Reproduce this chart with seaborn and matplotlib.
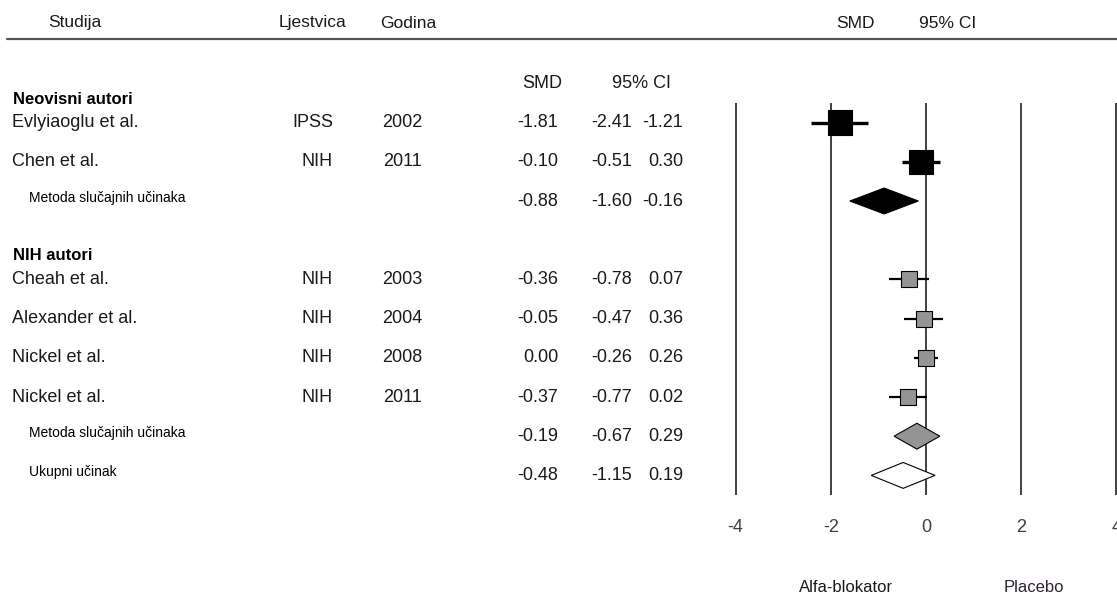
import matplotlib
matplotlib.use("Agg")
import matplotlib.pyplot as plt
import matplotlib.transforms as mtransforms
import pandas as pd
import seaborn as sns

# Neovisni autori
g1_studies = ["Evlyiaoglu et al.", "Chen et al."]
g1_scale = ["IPSS", "NIH"]
g1_year = ["2002", "2011"]
g1_smd = [-1.81, -0.10]
g1_lower = [-2.41, -0.51]
g1_upper = [-1.21, 0.30]
g1_pooled = [-0.88, -1.60, -0.16]

# NIH autori
g2_studies = ["Cheah et al.", "Alexander et al.", "Nickel et al.", "Nickel et al."]
g2_scale = ["NIH", "NIH", "NIH", "NIH"]
g2_year = ["2003", "2004", "2008", "2011"]
g2_smd = [-0.36, -0.05, 0.00, -0.37]
g2_lower = [-0.78, -0.47, -0.26, -0.77]
g2_upper = [0.07, 0.36, 0.26, 0.02]
g2_pooled = [-0.19, -0.67, 0.29]

overall = [-0.48, -1.15, 0.19]

group_names = ["Neovisni autori", "NIH autori"]
pooled_label = "Metoda slučajnih učinaka"
overall_label = "Ukupni učinak"
x_ticks = [-4, -2, 0, 2, 4]

W, H = 1117, 595
sns.set_theme(style="white")
plt.rcParams["font.family"] = ["Liberation Sans", "DejaVu Sans"]
plt.rcParams["axes.unicode_minus"] = False
TXT = "#1a1a1a"

# build table, one row per line of the plot
rows = []
r = 0
for gi, (names, scales, years, smd, lo, hi, pooled) in enumerate([
        (g1_studies, g1_scale, g1_year, g1_smd, g1_lower, g1_upper, g1_pooled),
        (g2_studies, g2_scale, g2_year, g2_smd, g2_lower, g2_upper, g2_pooled)]):
    if gi > 0:
        r += 1
    rows.append(dict(kind="header", label=group_names[gi], group=gi, row=r - 0.6))
    for n, s, y, m, l, h in zip(names, scales, years, smd, lo, hi):
        rows.append(dict(kind="study", label=n, scale=s, year=y, smd=m, lo=l, hi=h, group=gi, row=r))
        r += 1
    rows.append(dict(kind="pooled", label=pooled_label, smd=pooled[0], lo=pooled[1], hi=pooled[2],
                     group=gi, row=r))
    r += 1
rows.append(dict(kind="overall", label=overall_label, smd=overall[0], lo=overall[1], hi=overall[2],
                 group=2, row=r))
df = pd.DataFrame(rows)
n_rows = r + 1

fig = plt.figure(figsize=(W / 100, H / 100), dpi=100)
ax = fig.add_axes([720 / W, 1 - 495 / H, 397 / W, 392 / H])
ax.set_xlim(-206 / 47.6, 191 / 47.6)
ax.set_ylim(n_rows - 0.5, -0.5)
for s in ax.spines.values():
    s.set_visible(False)
ax.set_yticks([])
ax.set_xticks(x_ticks)
ax.set_xticklabels([str(t) for t in x_ticks])
ax.tick_params(axis="x", length=0, pad=17, labelsize=13, labelcolor="#404040")
for t in x_ticks:
    ax.axvline(t, color="#404040", lw=1.4, zorder=1)

# confidence intervals
studies = df[df.kind == "study"]
for g, lw in [(0, 2.4), (1, 1.6)]:
    sub = studies[studies.group == g]
    ax.hlines(sub.row, sub.lo, sub.hi, color="black", lw=lw, zorder=2)

# squares
sns.scatterplot(data=studies, x="smd", y="row", hue="group", size="group",
                palette={0: "black", 1: "#949494"}, sizes={0: 310, 1: 135},
                marker="s", edgecolor="black", linewidth=0.8, legend=False,
                zorder=3, ax=ax)
ax.set_xlabel("")
ax.set_ylabel("")

# diamonds
fills = {"pooled": {0: "black", 1: "#949494"}, "overall": {2: "white"}}
for _, d in df[df.kind.isin(["pooled", "overall"])].iterrows():
    hh = 0.33
    ax.fill([d.lo, d.smd, d.hi, d.smd], [d.row, d.row - hh, d.row, d.row + hh],
            facecolor=fills[d.kind][d.group], edgecolor="black", lw=0.8, zorder=3)

# text columns
tr = mtransforms.blended_transform_factory(fig.transFigure, ax.transData)
for _, d in df.iterrows():
    if d.kind == "header":
        fig.text(13 / W, d.row, d.label, transform=tr, fontsize=12, fontweight="bold",
                 color="black", va="center")
        continue
    if d.kind == "study":
        fig.text(12 / W, d.row, d.label, transform=tr, fontsize=13, color=TXT, va="center")
        fig.text(333 / W, d.row, d.scale, transform=tr, fontsize=13, color=TXT, va="center", ha="right")
        fig.text(402 / W, d.row, d.year, transform=tr, fontsize=13, color=TXT, va="center", ha="center")
    else:
        fig.text(29 / W, d.row - 0.08, d.label, transform=tr, fontsize=10, color="black", va="center")
    fig.text(558 / W, d.row, f"{d.smd:.2f}", transform=tr, fontsize=13, color=TXT, va="center", ha="right")
    fig.text(632 / W, d.row, f"{d.lo:.2f}", transform=tr, fontsize=13, color=TXT, va="center", ha="right")
    fig.text(683 / W, d.row, f"{d.hi:.2f}", transform=tr, fontsize=13, color=TXT, va="center", ha="right")

fig.text(542 / W, -1.0, "SMD", transform=tr, fontsize=13, color=TXT, va="center", ha="center")
fig.text(642 / W, -1.0, "95% CI", transform=tr, fontsize=13, color=TXT, va="center", ha="center")

# top header
for label, xp in [("Studija", 75), ("Ljestvica", 313), ("Godina", 408), ("SMD", 855), ("95% CI", 948)]:
    fig.text(xp / W, 1 - 23 / H, label, fontsize=12.5, color=TXT, va="center", ha="center")
fig.add_artist(plt.Line2D([7 / W, 1], [1 - 39 / H, 1 - 39 / H], transform=fig.transFigure,
                          color="#555555", lw=1.6))

fig.text(846 / W, 1 - 587 / H, "Alfa-blokator", fontsize=12, color=TXT, va="center", ha="center")
fig.text(1034 / W, 1 - 587 / H, "Placebo", fontsize=12, color="#2e2430", va="center", ha="center")

fig.savefig("out.png", dpi=100)
